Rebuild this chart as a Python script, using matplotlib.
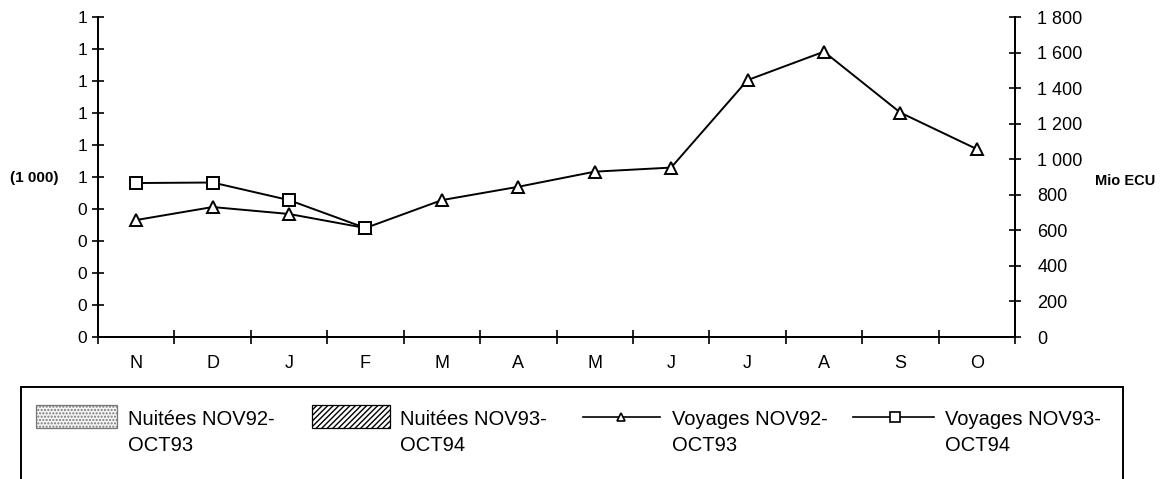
import matplotlib.pyplot as plt
from matplotlib.patches import Rectangle
from matplotlib.lines import Line2D

plt.rcParams['font.family'] = ['Liberation Sans', 'DejaVu Sans']

months = ['N', 'D', 'J', 'F', 'M', 'A', 'M', 'J', 'J', 'A', 'S', 'O']

# Mio ECU, right-hand scale
voyages_9293 = [658, 731, 692, 613, 770, 845, 930, 953, 1445, 1605, 1262, 1057]
voyages_9394 = [866, 869, 770, 613]

# left-hand scale (1 000), ticks shown rounded to whole numbers
left_ticks = [0.0, 0.1, 0.2, 0.3, 0.4, 0.5, 0.6, 0.7, 0.8, 0.9, 1.0]
left_labels = ['0', '0', '0', '0', '0', '1', '1', '1', '1', '1', '1']
right_ticks = [0, 200, 400, 600, 800, 1000, 1200, 1400, 1600, 1800]
right_labels = ['0', '200', '400', '600', '800', '1 000', '1 200', '1 400', '1 600', '1 800']

W, H = 1165, 479
fig = plt.figure(figsize=(W / 100, H / 100), dpi=100)
ax = fig.add_axes([98 / W, 1 - 337 / H, (1015 - 98) / W, 320 / H])
ax2 = ax.twinx()

x = list(range(len(months)))

# left axis
ax.set_xlim(-0.5, len(months) - 0.5)
ax.set_ylim(0, 1)
ax.set_yticks(left_ticks)
ax.set_yticklabels(left_labels)
ax.tick_params(axis='y', direction='inout', length=8, width=1.2, labelsize=12.5, pad=4)
ax.set_ylabel('(1 000)', rotation=0, fontsize=11, fontweight='bold', ha='center', va='center')
ax.yaxis.set_label_coords(-0.07, 0.497)

# month boundaries as ticks, month names in between
ax.set_xticks([i - 0.5 for i in range(len(months) + 1)])
ax.set_xticklabels([])
ax.set_xticks(x, minor=True)
ax.set_xticklabels(months, minor=True)
ax.tick_params(axis='x', which='major', direction='inout', length=10, width=1.2)
ax.tick_params(axis='x', which='minor', length=0, labelsize=13, pad=13)

# right axis with the travel receipts
ax2.set_ylim(0, 1800)
ax2.set_yticks(right_ticks)
ax2.set_yticklabels(right_labels)
ax2.tick_params(axis='y', direction='inout', length=8, width=1.2, labelsize=13, pad=12)
ax2.set_ylabel('Mio ECU', rotation=0, fontsize=10.5, fontweight='bold', ha='center', va='center')
ax2.yaxis.set_label_coords(1.12, 0.4875)

for a in (ax, ax2):
    a.spines['top'].set_visible(False)
    for s in ('left', 'right', 'bottom'):
        a.spines[s].set_linewidth(1.4)

ax2.plot(x, voyages_9293, color='black', lw=1.4, marker='^', ms=9,
         mfc='white', mec='black', mew=1.4, clip_on=False)
ax2.plot(x[:len(voyages_9394)], voyages_9394, color='black', lw=1.4, marker='s', ms=8.5,
         mfc='white', mec='black', mew=1.4, clip_on=False)

# legend box, open at the bottom edge of the figure
def fx(px):
    return px / W

def fy(py):
    return 1 - py / H

fig.add_artist(Rectangle((fx(21), fy(500)), fx(1123) - fx(21), fy(387) - fy(500),
                         transform=fig.transFigure, fill=False, lw=1.4, ec='black'))

top, bot = 405, 428
fig.add_artist(Rectangle((fx(36), fy(bot)), fx(117) - fx(36), fy(top) - fy(bot),
                         transform=fig.transFigure, fc='#f4f4f4', ec='#777777',
                         hatch='.....', lw=0.9))
fig.add_artist(Rectangle((fx(312), fy(bot)), fx(390) - fx(312), fy(top) - fy(bot),
                         transform=fig.transFigure, fc='white', ec='black',
                         hatch='//////', lw=0.9))

mid = (top + bot) / 2
fig.add_artist(Line2D([fx(583), fx(660)], [fy(mid), fy(mid)], transform=fig.transFigure,
                      color='black', lw=1.2))
fig.add_artist(Line2D([fx(621)], [fy(mid)], transform=fig.transFigure, marker='^', ms=6,
                      mfc='white', mec='black', mew=1.2, ls='none'))
fig.add_artist(Line2D([fx(853), fx(934)], [fy(mid), fy(mid)], transform=fig.transFigure,
                      color='black', lw=1.2))
fig.add_artist(Line2D([fx(895)], [fy(mid)], transform=fig.transFigure, marker='s', ms=6.5,
                      mfc='white', mec='black', mew=1.2, ls='none'))

labels = ['Nuitées NOV92-\nOCT93', 'Nuitées NOV93-\nOCT94',
          'Voyages NOV92-\nOCT93', 'Voyages NOV93-\nOCT94']
label_x = [128, 400, 672, 945]
for lx, lab in zip(label_x, labels):
    fig.text(fx(lx), fy(410), lab, ha='left', va='top', fontsize=14.5, linespacing=1.45)

fig.savefig('out.png', dpi=100)
